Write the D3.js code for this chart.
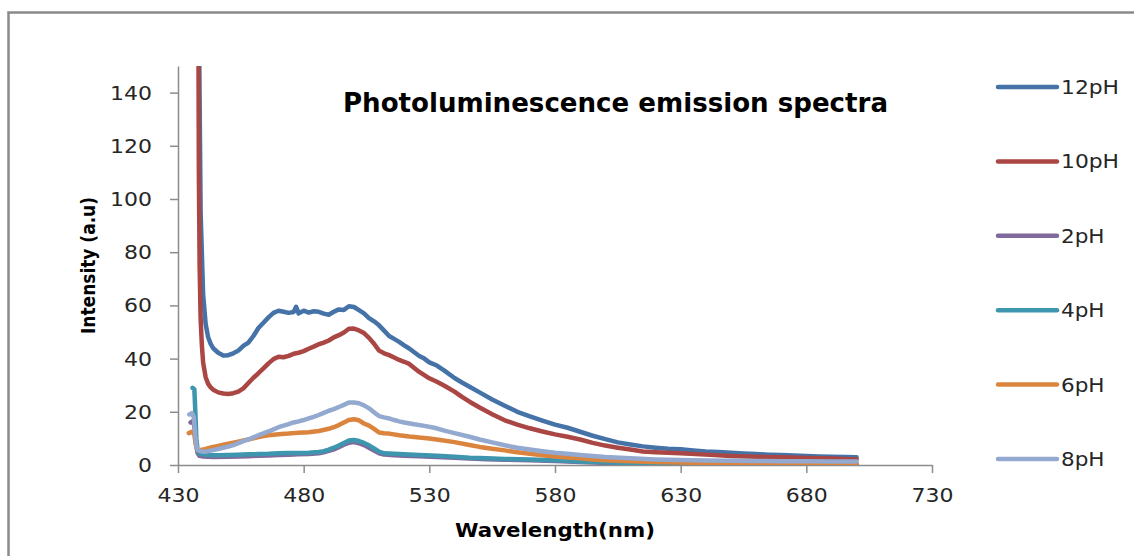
<!DOCTYPE html>
<html>
<head>
<meta charset="utf-8">
<script src="https://cdn.jsdelivr.net/npm/d3@7"></script>
<style>
  body { margin: 0; background: #fff; }
  .tick text { font-family: "DejaVu Sans", sans-serif; font-size: 20px; fill: #262626; }
  .axisText { font-family: "DejaVu Sans", sans-serif; font-weight: bold; fill: #000; }
</style>
</head>
<body>
<div id="chart"></div>
<script>
// series data: [wavelength (nm), intensity (a.u)]
var ph12 = [[438.3,170],[439,95],[440,64],[441,53],[442,48],[443,45.5],[444,43.9],[446,42.2],[448,41.2],[450,41.3],[452,42],[454,43],[456,44.8],[458,46],[460,48.5],[462,51.5],[464,53.5],[466,55.5],[468,57.2],[470,58],[472,57.6],[474,57.2],[476,57.5],[477,59.5],[478,57],[480,58],[482,57.3],[484,57.8],[486,57.6],[488,56.9],[490,56.5],[492,57.6],[494,58.5],[496,58.3],[498,59.7],[500,59.4],[502,58.2],[504,57],[506,55.2],[508,54],[510,52.5],[512,50.5],[514,48.5],[516,47.4],[518,46.3],[520,45],[522,43.8],[524,42.4],[526,41],[528,40],[530,38.6],[533,37.4],[536,35.5],[540,32.7],[543,31],[546,29.4],[550,27.3],[555,24.6],[560,22.3],[565,20],[570,18.3],[575,16.7],[580,15.2],[585,14],[590,12.5],[595,11],[600,9.7],[605,8.5],[610,7.7],[615,7],[620,6.5],[625,6.1],[630,5.9],[635,5.5],[640,5.1],[645,4.9],[650,4.6],[655,4.3],[660,4.1],[665,3.9],[670,3.8],[675,3.6],[680,3.4],[685,3.2],[690,3.1],[695,3],[700,2.9]];
var ph10 = [[438.1,170],[438.3,110],[438.6,75],[439,55],[439.5,45],[440,38.5],[441,33],[442,30.5],[443,29.2],[444,28.3],[446,27.3],[448,26.9],[450,26.7],[452,27],[454,27.6],[456,28.8],[458,30.8],[460,32.8],[462,34.5],[464,36.3],[466,38.2],[468,39.8],[470,40.7],[472,40.5],[474,41],[476,41.8],[478,42.2],[480,42.8],[482,43.7],[484,44.5],[486,45.4],[488,46],[490,46.8],[492,48],[494,48.8],[496,49.8],[498,51.2],[500,51.3],[502,50.6],[504,49.6],[506,47.8],[508,45.6],[510,43],[512,42],[514,41.3],[516,40.4],[518,39.5],[520,38.8],[522,38],[524,36.5],[526,35],[528,33.8],[530,32.6],[533,31.3],[536,29.8],[540,27.6],[543,25.6],[546,23.8],[550,21.6],[555,19.1],[560,16.8],[565,15.2],[570,13.8],[575,12.6],[580,11.5],[585,10.6],[590,9.6],[595,8.3],[600,7.3],[605,6.5],[610,5.8],[615,5.1],[620,4.8],[625,4.6],[630,4.4],[640,3.9],[650,3.4],[660,3.1],[670,2.9],[680,2.6],[690,2.4],[700,2.1]];
var ph2 = [[435,16],[436,16.5],[436.6,14],[437.2,8],[437.8,4.5],[438.5,3.5],[440,3.2],[444,3],[450,3.1],[454,3.2],[458,3.3],[462,3.5],[466,3.6],[470,3.8],[474,3.9],[478,4],[482,4.1],[486,4.4],[488,4.8],[490,5.3],[492,5.9],[494,6.7],[496,7.6],[498,8.4],[500,8.6],[502,8.2],[504,7.5],[506,6.5],[508,5.4],[510,4.4],[512,3.9],[516,3.7],[520,3.5],[526,3.3],[533,3],[540,2.7],[546,2.4],[553,2.2],[560,2],[570,1.8],[580,1.5],[590,1.1],[600,0.8],[610,0.6],[620,0.4],[640,0.3],[670,0.2],[700,0.2]];
var ph4 = [[435.8,29],[436.5,28.5],[436.9,20],[437.3,10],[437.8,5.5],[438.5,4.3],[440,4],[442,3.8],[446,3.7],[450,3.8],[454,3.9],[458,4],[462,4.1],[466,4.2],[470,4.4],[474,4.5],[478,4.5],[482,4.6],[486,4.9],[488,5.2],[490,5.8],[492,6.5],[494,7.3],[496,8.3],[498,9.2],[500,9.4],[502,9],[504,8.3],[506,7.4],[508,6.2],[510,5],[512,4.4],[516,4.2],[520,4],[526,3.8],[533,3.5],[540,3.1],[546,2.7],[553,2.5],[560,2.3],[570,2.1],[580,1.8],[590,1.3],[600,1],[610,0.7],[620,0.5],[640,0.4],[670,0.3],[700,0.3]];
var ph6 = [[434.3,12],[435.5,12.5],[436.5,11.5],[437,8],[437.5,6],[438,5.5],[440,5.8],[442,6.3],[444,6.8],[446,7.2],[448,7.6],[450,8],[452,8.4],[454,8.8],[456,9.2],[458,9.6],[460,10],[462,10.5],[464,10.9],[466,11.2],[468,11.4],[470,11.6],[474,11.8],[478,12.1],[482,12.3],[486,12.8],[490,13.6],[492,14.2],[494,15],[496,16],[498,16.9],[500,17.2],[502,16.8],[504,15.6],[506,14.8],[508,13.6],[510,12.2],[512,11.9],[514,11.8],[518,11.2],[522,10.7],[526,10.3],[530,10],[535,9.3],[540,8.6],[546,7.5],[550,6.8],[555,6.1],[560,5.5],[565,4.8],[570,4.2],[575,3.7],[580,3.2],[585,2.8],[590,2.5],[595,2.1],[600,1.8],[610,1.4],[620,1.1],[630,0.9],[650,0.7],[670,0.6],[700,0.5]];
var ph8 = [[434.5,19],[435.5,19.5],[436.3,18],[436.8,12],[437.3,7],[438,5.5],[440,5],[442,5.2],[444,5.6],[446,6],[448,6.5],[450,6.9],[452,7.5],[454,8.2],[456,9],[458,9.6],[460,10.4],[462,11.2],[464,11.9],[466,12.6],[468,13.4],[470,14.2],[472,14.8],[474,15.4],[476,16],[478,16.4],[480,16.9],[482,17.5],[484,18.1],[486,18.8],[488,19.6],[490,20.4],[492,21],[494,21.8],[496,22.6],[498,23.5],[500,23.5],[502,23.2],[504,22.4],[506,21.3],[508,19.8],[510,18.4],[512,17.9],[514,17.5],[516,16.9],[518,16.4],[520,16],[524,15.3],[528,14.7],[532,14],[536,12.9],[540,12],[546,10.6],[550,9.6],[555,8.5],[560,7.4],[565,6.5],[570,5.8],[575,5.2],[580,4.6],[585,4.2],[590,3.8],[595,3.4],[600,3],[610,2.5],[620,2.1],[630,1.9],[640,1.7],[650,1.6],[660,1.5],[670,1.4],[680,1.4],[690,1.3],[700,1.3]];

var seriesNames = ["12pH", "10pH", "2pH", "4pH", "6pH", "8pH"];
var seriesData = [ph12, ph10, ph2, ph4, ph6, ph8];
var colors = ["#4572A7", "#AA4643", "#80699B", "#3D96AE", "#DB843D", "#93A9CF"];

var xTicks = [430, 480, 530, 580, 630, 680, 730];
var yTicks = [0, 20, 40, 60, 80, 100, 120, 140];

var svgWidth = 1134;
var svgHeight = 556;

var margin = { top: 66, left: 178 };
var width = 754;
var height = 399;

var svg = d3.select("#chart")
  .append("svg")
  .attr("width", svgWidth)
  .attr("height", svgHeight);

// outer chart frame (runs off the right and bottom edges)
svg.append("rect")
  .attr("x", 8.5)
  .attr("y", 12.5)
  .attr("width", 1200)
  .attr("height", 600)
  .attr("fill", "none")
  .attr("stroke", "#8a8a8a")
  .attr("stroke-width", 2.5);

var chartGroup = svg.append("g")
  .attr("transform", `translate(${margin.left}, ${margin.top})`);

var xScale = d3.scaleLinear().domain([430, 730]).range([0, width]);
var yScale = d3.scaleLinear().domain([0, 150]).range([height, 0]);

var bottomAxis = d3.axisBottom(xScale).tickValues(xTicks).tickSize(8).tickSizeOuter(0).tickPadding(11).tickFormat(d3.format("d"));
var leftAxis = d3.axisLeft(yScale).tickValues(yTicks).tickSize(8).tickSizeOuter(0).tickPadding(18).tickFormat(d3.format("d"));

var xAxisG = chartGroup.append("g")
  .attr("transform", `translate(0, ${height})`)
  .call(bottomAxis);

var yAxisG = chartGroup.append("g")
  .call(leftAxis);

[xAxisG, yAxisG].forEach(function(g) {
  g.selectAll("path, line").attr("stroke", "#8c8c8c").attr("stroke-width", 1.5);
  g.selectAll("text")
    .attr("textLength", d => String(d).length * 14)
    .attr("lengthAdjust", "spacingAndGlyphs");
});
xAxisG.selectAll("text").attr("dy", "0.9em");

chartGroup.append("clipPath")
  .attr("id", "plotClip")
  .append("rect")
  .attr("x", 0)
  .attr("y", 0)
  .attr("width", width)
  .attr("height", height);

var line = d3.line()
  .x(d => xScale(d[0]))
  .y(d => yScale(d[1]));

chartGroup.append("g")
  .attr("clip-path", "url(#plotClip)")
  .selectAll("path")
  .data(seriesData)
  .enter()
  .append("path")
  .attr("d", line)
  .attr("fill", "none")
  .attr("stroke", (d, i) => colors[i])
  .attr("stroke-width", 4.5)
  .attr("stroke-linejoin", "round")
  .attr("stroke-linecap", "round");

// title
svg.append("text")
  .attr("class", "axisText")
  .attr("x", 343)
  .attr("y", 112)
  .attr("textLength", 545)
  .attr("lengthAdjust", "spacingAndGlyphs")
  .style("font-size", "26px")
  .text("Photoluminescence emission spectra");

// axis titles
svg.append("text")
  .attr("class", "axisText")
  .attr("transform", "translate(95, 334) rotate(-90)")
  .attr("textLength", 137)
  .attr("lengthAdjust", "spacingAndGlyphs")
  .style("font-size", "19px")
  .text("Intensity (a.u)");

svg.append("text")
  .attr("class", "axisText")
  .attr("x", 455)
  .attr("y", 537)
  .attr("textLength", 200)
  .attr("lengthAdjust", "spacingAndGlyphs")
  .style("font-size", "20px")
  .text("Wavelength(nm)");

// legend
var legend = svg.append("g")
  .selectAll("g")
  .data(seriesNames)
  .enter()
  .append("g")
  .attr("transform", (d, i) => `translate(998, ${87 + i * 74.4})`);

legend.append("line")
  .attr("x1", 0)
  .attr("x2", 59)
  .attr("stroke", (d, i) => colors[i])
  .attr("stroke-width", 4.5)
  .attr("stroke-linecap", "round");

legend.append("text")
  .attr("x", 63)
  .attr("y", 7)
  .attr("textLength", d => d.length * 14.5)
  .attr("lengthAdjust", "spacingAndGlyphs")
  .style("font-family", "DejaVu Sans, sans-serif")
  .style("font-size", "20px")
  .style("fill", "#262626")
  .text(d => d);
</script>
</body>
</html>
